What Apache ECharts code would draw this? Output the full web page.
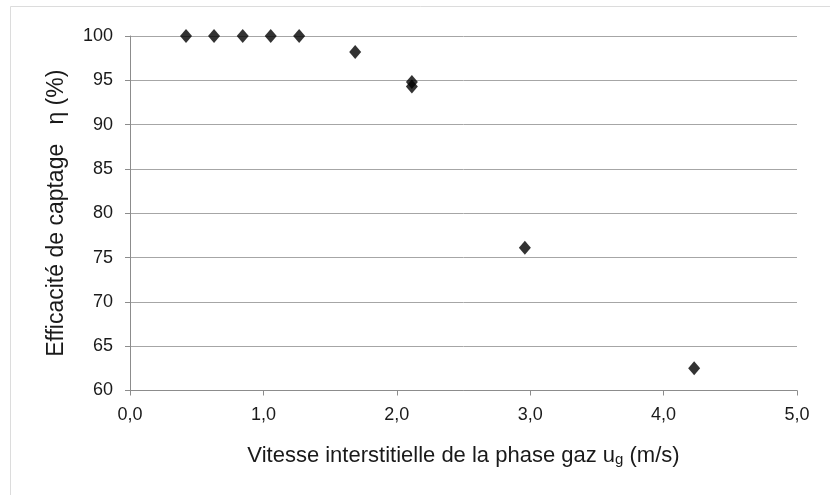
<!DOCTYPE html>
<html>
<head>
<meta charset="utf-8">
<script src="https://cdn.jsdelivr.net/npm/echarts@6/dist/echarts.min.js"></script>
<style>
  html, body { margin: 0; padding: 0; background: #fff; }
  #chart { width: 830px; height: 495px; }
</style>
</head>
<body>
<div id="chart"></div>
<script>
// gas velocity (m/s) and capture efficiency (%)
const velocity   = [0.42, 0.63, 0.845, 1.055, 1.268, 1.688, 2.113, 2.113, 2.96, 4.229];
const efficiency = [100, 100, 100, 100, 100, 98.2, 94.8, 94.3, 76.1, 62.5];
const xTicks = [0, 1, 2, 3, 4, 5];
const yRange = [60, 100];

const font = '"Liberation Sans", Arial, sans-serif';
const ink = '#1a1a1a';

const chart = echarts.init(document.getElementById('chart'), null, { renderer: 'canvas' });

chart.setOption({
  backgroundColor: '#fff',
  animation: false,
  graphic: [{
    type: 'rect',
    shape: { x: 10.5, y: 6.5, width: 840, height: 520 },
    style: { fill: 'none', stroke: '#dcdcdc', lineWidth: 1 },
    silent: true
  }],
  grid: { left: 130, right: 33, top: 36, bottom: 104.5 },
  xAxis: {
    type: 'value',
    min: xTicks[0], max: xTicks[xTicks.length - 1], interval: 1,
    axisLine: { lineStyle: { color: '#8c8c8c', width: 1 } },
    axisTick: { show: true, inside: false, length: 5, lineStyle: { color: '#8c8c8c' } },
    splitLine: { show: false },
    axisLabel: {
      color: ink, fontFamily: font, fontSize: 18, margin: 16,
      formatter: v => v.toFixed(1).replace('.', ',')
    },
    name: 'Vitesse interstitielle de la phase gaz u{sub|g} (m/s)',
    nameLocation: 'middle',
    nameGap: 53,
    nameTextStyle: {
      color: ink, fontFamily: font, fontSize: 22,
      rich: { sub: { fontSize: 15, fontFamily: font, color: ink, verticalAlign: 'bottom', padding: [9, 0, 0, 0] } }
    }
  },
  yAxis: {
    type: 'value',
    min: yRange[0], max: yRange[1], interval: 5,
    axisLine: { show: true, lineStyle: { color: '#8c8c8c', width: 1 } },
    axisTick: { show: true, inside: false, length: 5, lineStyle: { color: '#8c8c8c' } },
    splitLine: { show: true, lineStyle: { color: '#a6a6a6', width: 1 } },
    axisLabel: { color: ink, fontFamily: font, fontSize: 18, margin: 17 },
    name: 'Efficacité de captage   η (%)',
    nameLocation: 'middle',
    nameGap: 62,
    nameTextStyle: { color: ink, fontFamily: font, fontSize: 23 }
  },
  series: [{
    type: 'scatter',
    symbol: 'diamond',
    symbolSize: [12, 14],
    itemStyle: { color: '#000' },
    data: velocity.map((v, i) => [v, efficiency[i]])
  }]
});
</script>
</body>
</html>
